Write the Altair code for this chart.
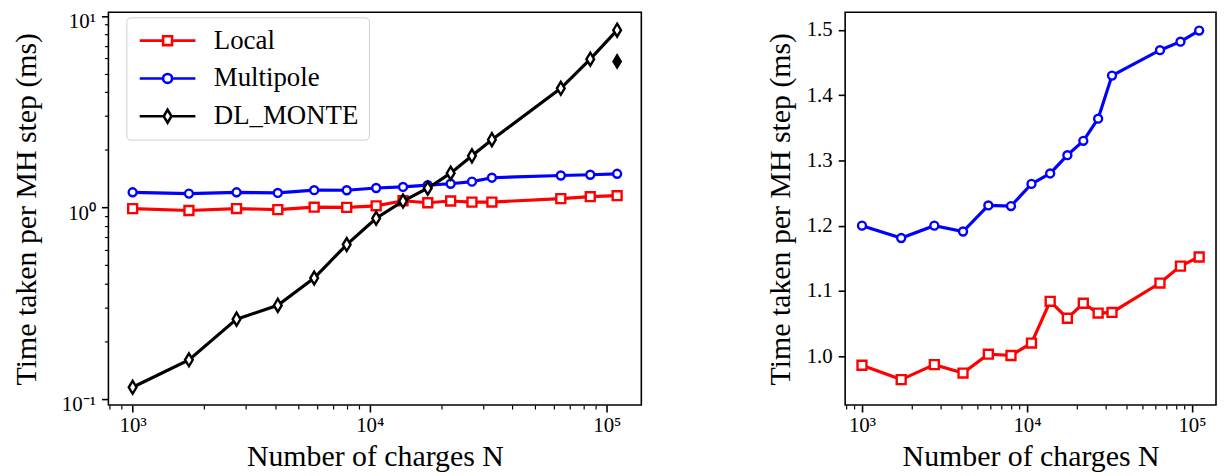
import altair as alt
import pandas as pd

# ---------------- data ----------------
N = [1000, 1728, 2744, 4096, 5832, 8000, 10648, 13824, 17576, 21952, 27000, 32768, 64000, 85184, 110592]
local = [0.986, 0.964, 0.987, 0.974, 1.003, 1.001, 1.020, 1.084, 1.058, 1.081, 1.066, 1.067, 1.112, 1.138, 1.152]
multipole = [1.200, 1.181, 1.200, 1.191, 1.231, 1.230, 1.264, 1.280, 1.308, 1.330, 1.364, 1.430, 1.469, 1.482, 1.499]
dl_monte = [0.115, 0.160, 0.261, 0.308, 0.428, 0.640, 0.878, 1.08, 1.26, 1.51, 1.86, 2.26, 4.19, 5.95, 8.43]
dl_extra_N = [110592]
dl_extra_t = [5.79]

series_names = ["Local", "Multipole", "DL_MONTE"]
series_colors = ["#ff0000", "#0000ff", "#000000"]

x_ticks = [800, 900, 1000, 2000, 3000, 4000, 5000, 6000, 7000, 8000, 9000,
           10000, 20000, 30000, 40000, 50000, 60000, 70000, 80000, 90000, 100000]
y_log_ticks = [0.1, 0.2, 0.3, 0.4, 0.5, 0.6, 0.7, 0.8, 0.9,
               1, 2, 3, 4, 5, 6, 7, 8, 9, 10]
y_lin_ticks = [1.0, 1.1, 1.2, 1.3, 1.4, 1.5]

FONT = "Liberation Serif"

df_local = pd.DataFrame({"N": N, "t": local})
df_multi = pd.DataFrame({"N": N, "t": multipole})
df_dl = pd.DataFrame({"N": N, "t": dl_monte})
df_extra = pd.DataFrame({"N": dl_extra_N, "t": dl_extra_t})
df_all = pd.DataFrame({"N": N * 3, "t": local + multipole + dl_monte,
                       "series": sum([[s] * len(N) for s in series_names], [])})

# marker shapes
DIAMOND = "M0,-1L0.6,0L0,1L-0.6,0Z"
LEG_SQUARE = "M-2.8,0H-0.45M0.45,0H2.8M-0.45,-0.45H0.45V0.45H-0.45Z"
LEG_CIRCLE = "M-2.8,0H-0.45M0.45,0H2.8M-0.45,0A0.45,0.45 0 1 1 0.45,0A0.45,0.45 0 1 1 -0.45,0Z"
LEG_DIAMOND = "M-2.8,0H-0.39M0.39,0H2.8M0,-0.65L0.39,0L0,0.65L-0.39,0Z"
legend_paths = [LEG_SQUARE, LEG_CIRCLE, LEG_DIAMOND]

MAJOR = "abs(log(datum.value)/LN10 - round(log(datum.value)/LN10)) < 0.001"


def log_axis_common():
    return dict(
        tickSize={"condition": {"test": MAJOR, "value": 7}, "value": 4},
        tickWidth={"condition": {"test": MAJOR, "value": 1.6}, "value": 1.2},
        tickColor="black", domain=False, grid=False,
        labelFont=FONT, labelFontSize=21, labelColor="black",
        labelOverlap=False, labelFlush=False,
        titleFont=FONT, titleFontSize=30, titleFontWeight="normal", titleColor="black",
    )


x_axis = alt.Axis(
    values=x_ticks,
    labelExpr="datum.value == 1000 ? '10³' : datum.value == 10000 ? '10⁴' : datum.value == 100000 ? '10⁵' : ''",
    labelPadding=3, titlePadding=6, title="Number of charges N",
    **log_axis_common())

y_log_axis = alt.Axis(
    values=y_log_ticks,
    labelExpr="datum.value == 0.1 ? '10⁻¹' : datum.value == 1 ? '10⁰' : datum.value == 10 ? '10¹' : ''",
    labelPadding=6, labelOffset=6, titlePadding=20, title="Time taken per MH step (ms)",
    **log_axis_common())

y_lin_axis = alt.Axis(
    values=y_lin_ticks, format=".1f", tickSize=7, tickWidth=1.6, tickColor="black",
    domain=False, grid=False, labelFont=FONT, labelFontSize=21, labelColor="black",
    labelPadding=6, titlePadding=11, title="Time taken per MH step (ms)",
    titleFont=FONT, titleFontSize=30, titleFontWeight="normal", titleColor="black")

x_enc = alt.X("N:Q", scale=alt.Scale(type="log", domain=[790.5, 139900]), axis=x_axis)
y_log_enc = alt.Y("t:Q", scale=alt.Scale(type="log", domain=[0.0929, 10.45]), axis=y_log_axis)
y_lin_enc = alt.Y("t:Q", scale=alt.Scale(domain=[0.925, 1.527], zero=False), axis=y_lin_axis)


def series_layers(df, color, shape, size, y_enc):
    line = alt.Chart(df).mark_line(color=color, strokeWidth=3.2).encode(x=x_enc, y=y_enc)
    pts = alt.Chart(df).mark_point(shape=shape, size=size, filled=True, fill="white",
                                   stroke=color, strokeWidth=2.4, opacity=1).encode(x=x_enc, y=y_enc)
    return [line, pts]


def legend_layer(names, colors, paths, y_enc, lx, ly):
    leg = alt.Legend(
        title=None, orient="none", legendX=lx, legendY=ly,
        symbolSize=400, symbolOffset=18, symbolStrokeWidth=2.6, symbolOpacity=1,
        labelOffset=33, labelFont=FONT, labelFontSize=27, labelColor="black",
        padding=10, rowPadding=10, strokeColor="#d0d0d0", fillColor="white",
        cornerRadius=4)
    sub = df_all[df_all["series"].isin(names)]
    return alt.Chart(sub).mark_point(filled=False, opacity=1, strokeWidth=2.6).encode(
        x=x_enc, y=y_enc,
        color=alt.Color("series:N", scale=alt.Scale(domain=names, range=colors), legend=leg),
        shape=alt.Shape("series:N", scale=alt.Scale(domain=names, range=paths), legend=leg),
    ).transform_filter("false")


left_layers = (series_layers(df_local, series_colors[0], "square", 81, y_log_enc)
               + series_layers(df_multi, series_colors[1], "circle", 64, y_log_enc)
               + series_layers(df_dl, series_colors[2], DIAMOND, 169, y_log_enc))
left_layers.append(alt.Chart(df_extra).mark_point(shape=DIAMOND, size=169, filled=True, fill="black",
                                                  stroke="black", strokeWidth=2, opacity=1)
                   .encode(x=x_enc, y=y_log_enc))
left_layers.append(legend_layer(series_names, series_colors, legend_paths, y_log_enc, 18, 5))
left = alt.layer(*left_layers).properties(width=536, height=395)

right_layers = (series_layers(df_local, series_colors[0], "square", 81, y_lin_enc)
                + series_layers(df_multi, series_colors[1], "circle", 64, y_lin_enc))
right_layers.append(legend_layer(series_names[:2], series_colors[:2], legend_paths[:2], y_lin_enc, 16, 5))
right = alt.layer(*right_layers).properties(width=373, height=395)

chart = alt.hconcat(left, right, spacing=205, bounds="flush").properties(
    padding={"left": 2, "top": 0, "right": 0, "bottom": 0},
    background="white",
).configure_view(stroke="black", strokeWidth=1.6)

chart.save("out.html", embed_options={"renderer": "svg", "actions": False})
